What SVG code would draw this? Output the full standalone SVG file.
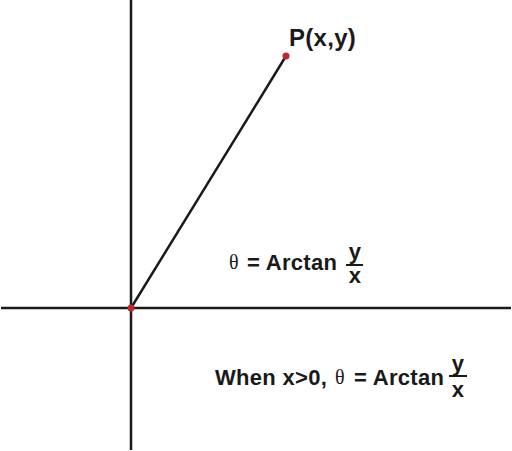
<svg xmlns="http://www.w3.org/2000/svg" width="512" height="451" viewBox="0 0 512 451">
<style>
.ax{stroke:#1a1a1a;stroke-width:2.5;fill:none}
.t{font-family:"Liberation Sans",Arial,sans-serif;font-weight:bold;fill:#1a1a1a;letter-spacing:0.3px}
.th{font-family:"Liberation Serif","Times New Roman",serif;font-weight:normal;fill:#1a1a1a}
.dot{fill:#c0272d}
.bar{stroke:#1a1a1a;stroke-width:2}
</style>
<rect width="512" height="451" fill="#fff"/>
<g id="connectors">
<line class="ax" x1="1" y1="308" x2="511" y2="308"/>
<line class="ax" x1="131" y1="0" x2="131" y2="450"/>
<line class="ax" x1="131" y1="308" x2="286" y2="56"/>
</g>
<g id="origin"><circle class="dot" cx="131" cy="308" r="3.5"/></g>
<g id="pointP">
<circle class="dot" cx="286" cy="56" r="3.5"/>
<text class="t" x="289" y="46" font-size="24">P(x,y)</text>
</g>
<g id="formula1">
<text class="th" x="229" y="269" font-size="20">θ</text>
<text class="t" x="247" y="270" font-size="22">= Arctan</text>
<text class="t" x="355" y="259" font-size="22" text-anchor="middle">y</text>
<line class="bar" x1="346" y1="265" x2="363" y2="265"/>
<text class="t" x="355" y="283" font-size="22" text-anchor="middle">x</text>
</g>
<g id="formula2">
<text class="t" x="215" y="385" font-size="22">When x&gt;0,</text>
<text class="th" x="335" y="384" font-size="20">θ</text>
<text class="t" x="354" y="385" font-size="22">= Arctan</text>
<text class="t" x="458" y="371" font-size="22" text-anchor="middle">y</text>
<line class="bar" x1="449" y1="376" x2="467" y2="376"/>
<text class="t" x="458" y="397" font-size="22" text-anchor="middle">x</text>
</g>
</svg>
